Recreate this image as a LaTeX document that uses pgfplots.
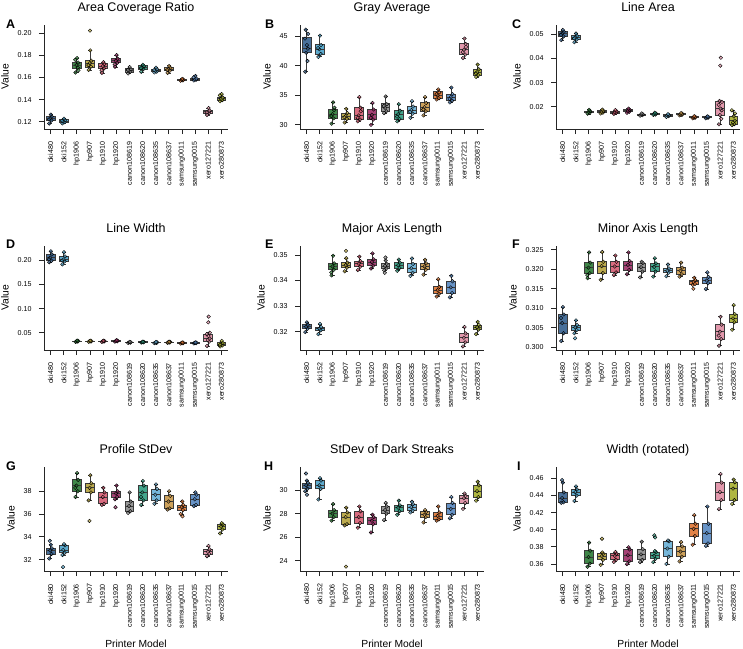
\documentclass[border=0pt]{standalone}
\usepackage{pgfplots}
\pgfplotsset{compat=1.18}
\usepackage{fontspec}
\setmainfont{Liberation Sans}

% one colour per printer model
\definecolor{c0}{HTML}{35618F}
\definecolor{c1}{HTML}{4BA1C8}
\definecolor{c2}{HTML}{2B7A35}
\definecolor{c3}{HTML}{B5A23C}
\definecolor{c4}{HTML}{D55C72}
\definecolor{c5}{HTML}{9B2D66}
\definecolor{c6}{HTML}{8C8C8C}
\definecolor{c7}{HTML}{2F9B80}
\definecolor{c8}{HTML}{67AFD6}
\definecolor{c9}{HTML}{C9984A}
\definecolor{c10}{HTML}{DE7432}
\definecolor{c11}{HTML}{5687C0}
\definecolor{c12}{HTML}{DF8DA3}
\definecolor{c13}{HTML}{A6AE2C}
\definecolor{axc}{HTML}{262626}
\definecolor{boxc}{HTML}{3A3A3A}

\pgfplotsset{boxline/.style={draw=boxc, line width=0.85pt, line join=miter}}

% box: position/colour index, lower whisker, Q1, median, Q3, upper whisker
\newcommand{\bxp}[6]{%
  \pgfmathsetmacro\bxL{#1-0.34}\pgfmathsetmacro\bxR{#1+0.34}%
  \pgfmathsetmacro\cpL{#1-0.14}\pgfmathsetmacro\cpR{#1+0.14}%
  \edef\doplot{%
    \noexpand\addplot[boxline, unbounded coords=jump] coordinates
      {(\cpL,#2)(\cpR,#2)(#1,nan)(#1,#2)(#1,#3)(#1,nan)(#1,#5)(#1,#6)(#1,nan)(\cpL,#6)(\cpR,#6)};
    \noexpand\addplot[boxline, fill=c#1, fill opacity=0.9] coordinates
      {(\bxL,#3)(\bxR,#3)(\bxR,#5)(\bxL,#5)} -- cycle;
    \noexpand\addplot[boxline] coordinates {(\bxL,#4)(\bxR,#4)};
  }\doplot}
% individual samples of one printer model
\newcommand{\pts}[2]{\addplot[only marks, mark=*, mark size=1.8pt,
  mark options={draw=none, fill=c#1, fill opacity=0.7}] coordinates {#2};}

\pgfplotsset{
  panel/.style={
    scale only axis, width=184pt, height=104pt,
    xmin=-0.5, xmax=13.5, xtick={0,...,13},
    xticklabels={oki480,oki152,hp1906,hp907,hp1910,hp1920,canon108619,canon108620,
      canon108635,canon108637,samsung0011,samsung0015,xero127221,xero280873},
    axis x line*=bottom, axis y line*=left,
    axis line style={line width=0.8pt, color=axc},
    tick style={line width=0.8pt, color=axc},
    major tick length=5pt, tick align=outside,
    xticklabel shift=4.5pt, yticklabel shift=4pt,
    x tick label style={rotate=90, anchor=east, font=\fontsize{7.1}{8}\selectfont},
    y tick label style={font=\fontsize{7.1}{8}\selectfont},
    ylabel={Value}, ylabel style={font=\fontsize{10.3}{12}\selectfont}, ylabel shift=2pt,
    xlabel style={font=\fontsize{10.3}{12}\selectfont}, xlabel shift=5pt,
    title style={at={(0.5,1)}, anchor=base, yshift=7.5pt, font=\fontsize{12.5}{14}\selectfont},
    scaled y ticks=false,
    /pgf/number format/assume math mode=true,
  },
}

\begin{document}
\begin{tikzpicture}
\path[use as bounding box] (0pt,0pt) rectangle (743pt,-648pt);

% ---------- A ----------
\begin{axis}[panel, at={(44pt,-129pt)}, anchor=south west, title={Area Coverage Ratio},
  ymin=0.1135, ymax=0.2074, ytick={0.12,0.14,0.16,0.18,0.20},
  yticklabels={0.12,0.14,0.16,0.18,0.20}]
\bxp{0}{.1185}{.1210}{.1230}{.1250}{.1265}
\bxp{1}{.1185}{.1195}{.1205}{.1218}{.1228}
\bxp{2}{.1645}{.1685}{.1712}{.1738}{.1775}
\bxp{3}{.1665}{.1695}{.1730}{.1755}{.1845}
\bxp{4}{.1640}{.1680}{.1703}{.1725}{.1740}
\bxp{5}{.1695}{.1732}{.1752}{.1772}{.1800}
\bxp{6}{.1635}{.1650}{.1662}{.1678}{.1695}
\bxp{7}{.1650}{.1675}{.1690}{.1705}{.1715}
\bxp{8}{.1645}{.1652}{.1662}{.1675}{.1690}
\bxp{9}{.1640}{.1660}{.1675}{.1690}{.1705}
\bxp{10}{.1570}{.1573}{.1578}{.1583}{.1588}
\bxp{11}{.1572}{.1578}{.1583}{.1590}{.1615}
\bxp{12}{.1260}{.1278}{.1290}{.1302}{.1325}
\bxp{13}{.1385}{.1395}{.1408}{.1420}{.1450}
\pts{0}{(-0.1,.1185)(0.07,.1212)(-0.03,.1230)(0.1,.1248)(0.02,.1265)(-0.12,.1222)}
\pts{1}{(0.9,.1186)(1.07,.1196)(0.97,.1205)(1.1,.1216)(1.02,.1228)(0.88,.1210)}
\pts{2}{(1.9,.1645)(2.07,.1688)(1.97,.1712)(2.1,.1735)(2.02,.1775)(1.88,.1760)(2.12,.1665)}
\pts{3}{(2.9,.1668)(3.07,.1698)(2.97,.1728)(3.1,.1752)(3.02,.1845)(2.88,.1712)(3.0,.2023)}
\pts{4}{(3.9,.1641)(4.07,.1682)(3.97,.1703)(4.1,.1722)(4.02,.1738)(3.88,.1665)}
\pts{5}{(4.9,.1697)(5.07,.1733)(4.97,.1752)(5.1,.1770)(5.02,.1802)(4.88,.1718)}
\pts{6}{(5.9,.1636)(6.07,.1652)(5.97,.1662)(6.1,.1676)(6.02,.1694)(5.88,.1668)}
\pts{7}{(6.9,.1652)(7.07,.1676)(6.97,.1690)(7.1,.1703)(7.02,.1715)(6.88,.1684)}
\pts{8}{(7.9,.1646)(8.07,.1653)(7.97,.1662)(8.1,.1674)(8.02,.1689)(7.88,.1668)}
\pts{9}{(8.9,.1641)(9.07,.1661)(8.97,.1675)(9.1,.1689)(9.02,.1704)(8.88,.1668)}
\pts{10}{(9.9,.1571)(10.07,.1574)(9.97,.1578)(10.1,.1582)(10.02,.1587)}
\pts{11}{(10.9,.1573)(11.07,.1579)(10.97,.1583)(11.1,.1589)(11.02,.1614)(10.88,.1600)}
\pts{12}{(11.9,.1261)(12.07,.1279)(11.97,.1290)(12.1,.1301)(12.02,.1324)(11.88,.1285)}
\pts{13}{(12.9,.1386)(13.07,.1396)(12.97,.1408)(13.1,.1419)(13.02,.1450)(12.88,.1438)}
\end{axis}

% ---------- B ----------
\begin{axis}[panel, at={(300pt,-129pt)}, anchor=south west, title={Gray Average},
  ymin=29.3, ymax=46.9, ytick={30,35,40,45}, yticklabels={30,35,40,45}]
\bxp{0}{39.0}{42.2}{42.9}{44.8}{46.1}
\bxp{1}{41.5}{42.0}{42.8}{43.6}{45.2}
\bxp{2}{30.2}{31.1}{31.8}{32.6}{33.8}
\bxp{3}{30.4}{31.0}{31.5}{32.0}{32.7}
\bxp{4}{30.6}{30.9}{31.6}{33.0}{34.7}
\bxp{5}{30.0}{30.9}{31.7}{32.6}{33.7}
\bxp{6}{32.0}{32.3}{32.9}{33.6}{34.8}
\bxp{7}{30.6}{31.0}{31.8}{32.5}{33.5}
\bxp{8}{31.2}{31.9}{32.5}{33.1}{34.0}
\bxp{9}{31.6}{32.3}{33.0}{33.8}{34.7}
\bxp{10}{34.3}{34.5}{35.0}{35.6}{36.0}
\bxp{11}{33.8}{34.1}{34.7}{35.2}{36.3}
\bxp{12}{41.3}{41.9}{42.7}{43.8}{44.6}
\bxp{13}{38.1}{38.4}{38.9}{39.4}{40.2}
\pts{0}{(-0.1,39.0)(0.07,40.8)(-0.03,42.2)(0.1,42.9)(0.02,43.5)(-0.12,44.6)(0.12,45.4)(-0.06,46.1)}
\pts{1}{(0.9,41.5)(1.07,42.0)(0.97,42.8)(1.1,43.5)(1.02,45.1)(0.88,43.0)}
\pts{2}{(1.9,30.2)(2.07,31.1)(1.97,31.8)(2.1,32.5)(2.02,33.8)(1.88,31.5)(2.12,32.9)}
\pts{3}{(2.9,30.4)(3.07,31.0)(2.97,31.5)(3.1,32.0)(3.02,32.7)(2.88,31.3)}
\pts{4}{(3.9,30.6)(4.07,30.9)(3.97,31.6)(4.1,32.9)(4.02,34.7)(3.88,31.2)(4.12,32.3)}
\pts{5}{(4.9,30.0)(5.07,30.9)(4.97,31.7)(5.1,32.6)(5.02,33.7)(4.88,31.2)}
\pts{6}{(5.9,32.0)(6.07,32.3)(5.97,32.9)(6.1,33.5)(6.02,34.8)(5.88,33.2)}
\pts{7}{(6.9,30.6)(7.07,31.0)(6.97,31.8)(7.1,32.4)(7.02,33.5)(6.88,31.4)}
\pts{8}{(7.9,31.2)(8.07,31.9)(7.97,32.5)(8.1,33.1)(8.02,34.0)(7.88,32.2)}
\pts{9}{(8.9,31.6)(9.07,32.3)(8.97,33.0)(9.1,33.7)(9.02,34.7)(8.88,32.6)}
\pts{10}{(9.9,34.3)(10.07,34.5)(9.97,35.0)(10.1,35.5)(10.02,36.0)(9.88,35.2)}
\pts{11}{(10.9,33.8)(11.07,34.1)(10.97,34.7)(11.1,35.2)(11.02,36.3)(10.88,34.4)}
\pts{12}{(11.9,41.3)(12.07,41.9)(11.97,42.7)(12.1,43.7)(12.02,44.6)(11.88,42.3)(12.12,43.2)}
\pts{13}{(12.9,38.1)(13.07,38.4)(12.97,38.9)(13.1,39.4)(13.02,40.2)(12.88,38.7)}
\end{axis}

% ---------- C ----------
\begin{axis}[panel, at={(556pt,-129pt)}, anchor=south west, title={Line Area},
  ymin=0.01076, ymax=0.05385, ytick={0.02,0.03,0.04,0.05}, yticklabels={0.02,0.03,0.04,0.05}]
\bxp{0}{.0476}{.0491}{.0503}{.0512}{.0518}
\bxp{1}{.0467}{.0478}{.0487}{.0495}{.0503}
\bxp{2}{.0170}{.0175}{.0178}{.0182}{.0187}
\bxp{3}{.0171}{.0175}{.0179}{.0183}{.0188}
\bxp{4}{.0170}{.0174}{.0177}{.0181}{.0186}
\bxp{5}{.0175}{.0179}{.0183}{.0187}{.0192}
\bxp{6}{.0163}{.0165}{.0167}{.0169}{.0172}
\bxp{7}{.0166}{.0168}{.0170}{.0172}{.0175}
\bxp{8}{.0158}{.0161}{.0164}{.0166}{.0169}
\bxp{9}{.0164}{.0166}{.0168}{.0171}{.0174}
\bxp{10}{.0152}{.0154}{.0156}{.0158}{.0161}
\bxp{11}{.0152}{.0154}{.0156}{.0158}{.0160}
\bxp{12}{.0127}{.0165}{.0192}{.0220}{.0224}
\bxp{13}{.0124}{.0128}{.0142}{.0160}{.0185}
\pts{0}{(-0.1,.0476)(0.07,.0491)(-0.03,.0503)(0.1,.0511)(0.02,.0518)(-0.12,.0498)}
\pts{1}{(0.9,.0467)(1.07,.0478)(0.97,.0487)(1.1,.0494)(1.02,.0503)(0.88,.0483)}
\pts{2}{(1.9,.0171)(2.07,.0175)(1.97,.0178)(2.1,.0182)(2.02,.0187)}
\pts{3}{(2.9,.0172)(3.07,.0175)(2.97,.0179)(3.1,.0183)(3.02,.0188)}
\pts{4}{(3.9,.0170)(4.07,.0174)(3.97,.0177)(4.1,.0181)(4.02,.0186)}
\pts{5}{(4.9,.0175)(5.07,.0179)(4.97,.0183)(5.1,.0187)(5.02,.0192)}
\pts{6}{(5.9,.0163)(6.07,.0165)(5.97,.0167)(6.1,.0169)(6.02,.0172)}
\pts{7}{(6.9,.0166)(7.07,.0168)(6.97,.0170)(7.1,.0172)(7.02,.0175)}
\pts{8}{(7.9,.0158)(8.07,.0161)(7.97,.0164)(8.1,.0166)(8.02,.0169)}
\pts{9}{(8.9,.0164)(9.07,.0166)(8.97,.0168)(9.1,.0171)(9.02,.0174)}
\pts{10}{(9.9,.0152)(10.07,.0154)(9.97,.0156)(10.1,.0158)(10.02,.0161)}
\pts{11}{(10.9,.0152)(11.07,.0154)(10.97,.0156)(11.1,.0158)(11.02,.0160)}
\pts{12}{(11.9,.0127)(12.07,.0150)(11.97,.0165)(12.1,.0185)(12.02,.0192)(11.88,.0208)(12.12,.0220)(11.94,.0224)(12.0,.0370)(12.04,.0403)}
\pts{13}{(12.9,.0124)(13.07,.0128)(12.97,.0135)(13.1,.0142)(13.02,.0160)(12.88,.0185)(13.12,.0172)}
\end{axis}

% ---------- D ----------
\begin{axis}[panel, at={(44pt,-350pt)}, anchor=south west, title={Line Width},
  ymin=0.0142, ymax=0.2295, ytick={0.05,0.10,0.15,0.20}, yticklabels={0.05,0.10,0.15,0.20}]
\bxp{0}{.1960}{.1990}{.2055}{.2120}{.2185}
\bxp{1}{.1915}{.1975}{.2015}{.2080}{.2165}
\bxp{2}{.0310}{.0318}{.0323}{.0330}{.0338}
\bxp{3}{.0312}{.0318}{.0324}{.0330}{.0336}
\bxp{4}{.0310}{.0317}{.0322}{.0328}{.0335}
\bxp{5}{.0315}{.0323}{.0330}{.0337}{.0345}
\bxp{6}{.0290}{.0295}{.0300}{.0305}{.0310}
\bxp{7}{.0295}{.0300}{.0305}{.0310}{.0315}
\bxp{8}{.0285}{.0291}{.0296}{.0302}{.0308}
\bxp{9}{.0292}{.0298}{.0303}{.0308}{.0314}
\bxp{10}{.0275}{.0282}{.0287}{.0293}{.0298}
\bxp{11}{.0278}{.0283}{.0288}{.0294}{.0299}
\bxp{12}{.0225}{.0315}{.0380}{.0470}{.0500}
\bxp{13}{.0215}{.0235}{.0260}{.0290}{.0330}
\pts{0}{(-0.1,.1960)(0.07,.1990)(-0.03,.2055)(0.1,.2120)(0.02,.2185)(-0.12,.2020)}
\pts{1}{(0.9,.1915)(1.07,.1975)(0.97,.2015)(1.1,.2080)(1.02,.2165)(0.88,.1995)}
\pts{2}{(1.9,.0310)(2.07,.0318)(1.97,.0323)(2.1,.0330)(2.02,.0338)}
\pts{3}{(2.9,.0312)(3.07,.0318)(2.97,.0324)(3.1,.0330)(3.02,.0336)}
\pts{4}{(3.9,.0310)(4.07,.0317)(3.97,.0322)(4.1,.0328)(4.02,.0335)}
\pts{5}{(4.9,.0315)(5.07,.0323)(4.97,.0330)(5.1,.0337)(5.02,.0345)}
\pts{6}{(5.9,.0290)(6.07,.0295)(5.97,.0300)(6.1,.0305)(6.02,.0310)}
\pts{7}{(6.9,.0295)(7.07,.0300)(6.97,.0305)(7.1,.0310)(7.02,.0315)}
\pts{8}{(7.9,.0285)(8.07,.0291)(7.97,.0296)(8.1,.0302)(8.02,.0308)}
\pts{9}{(8.9,.0292)(9.07,.0298)(8.97,.0303)(9.1,.0308)(9.02,.0314)}
\pts{10}{(9.9,.0275)(10.07,.0282)(9.97,.0287)(10.1,.0293)(10.02,.0298)}
\pts{11}{(10.9,.0278)(11.07,.0283)(10.97,.0288)(11.1,.0294)(11.02,.0299)}
\pts{12}{(11.9,.0225)(12.07,.0315)(11.97,.0350)(12.1,.0380)(12.02,.0430)(11.88,.0470)(12.12,.0500)(12.0,.0715)(12.03,.0833)}
\pts{13}{(12.9,.0215)(13.07,.0235)(12.97,.0260)(13.1,.0290)(13.02,.0330)(12.88,.0250)}
\end{axis}

% ---------- E ----------
\begin{axis}[panel, at={(300pt,-350pt)}, anchor=south west, title={Major Axis Length},
  ymin=0.3128, ymax=0.3535, ytick={0.32,0.33,0.34,0.35}, yticklabels={0.32,0.33,0.34,0.35}]
\bxp{0}{.3198}{.3211}{.3219}{.3227}{.3236}
\bxp{1}{.3190}{.3205}{.3212}{.3218}{.3230}
\bxp{2}{.3420}{.3442}{.3455}{.3467}{.3497}
\bxp{3}{.3436}{.3450}{.3460}{.3470}{.3487}
\bxp{4}{.3441}{.3454}{.3466}{.3476}{.3493}
\bxp{5}{.3447}{.3458}{.3472}{.3483}{.3506}
\bxp{6}{.3440}{.3447}{.3457}{.3465}{.3478}
\bxp{7}{.3438}{.3449}{.3460}{.3470}{.3482}
\bxp{8}{.3418}{.3430}{.3448}{.3465}{.3486}
\bxp{9}{.3423}{.3442}{.3455}{.3467}{.3481}
\bxp{10}{.3337}{.3348}{.3362}{.3375}{.3405}
\bxp{11}{.3334}{.3351}{.3373}{.3397}{.3418}
\bxp{12}{.3142}{.3158}{.3176}{.3193}{.3218}
\bxp{13}{.3190}{.3208}{.3217}{.3226}{.3238}
\pts{0}{(-0.1,.3198)(0.07,.3211)(-0.03,.3219)(0.1,.3227)(0.02,.3236)}
\pts{1}{(0.9,.3190)(1.07,.3205)(0.97,.3212)(1.1,.3218)(1.02,.3230)}
\pts{2}{(1.9,.3420)(2.07,.3442)(1.97,.3455)(2.1,.3467)(2.02,.3497)(1.88,.3432)}
\pts{3}{(2.9,.3436)(3.07,.3450)(2.97,.3460)(3.1,.3470)(3.02,.3487)(3.0,.3516)}
\pts{4}{(3.9,.3441)(4.07,.3454)(3.97,.3466)(4.1,.3476)(4.02,.3493)}
\pts{5}{(4.9,.3447)(5.07,.3458)(4.97,.3472)(5.1,.3483)(5.02,.3506)}
\pts{6}{(5.9,.3440)(6.07,.3447)(5.97,.3457)(6.1,.3465)(6.02,.3478)(6.0,.3490)(5.95,.3430)}
\pts{7}{(6.9,.3438)(7.07,.3449)(6.97,.3460)(7.1,.3470)(7.02,.3482)}
\pts{8}{(7.9,.3418)(8.07,.3430)(7.97,.3448)(8.1,.3465)(8.02,.3486)}
\pts{9}{(8.9,.3423)(9.07,.3442)(8.97,.3455)(9.1,.3467)(9.02,.3481)}
\pts{10}{(9.9,.3337)(10.07,.3348)(9.97,.3362)(10.1,.3375)(10.02,.3405)}
\pts{11}{(10.9,.3334)(11.07,.3351)(10.97,.3373)(11.1,.3397)(11.02,.3418)}
\pts{12}{(11.9,.3142)(12.07,.3158)(11.97,.3176)(12.1,.3193)(12.02,.3218)}
\pts{13}{(12.9,.3190)(13.07,.3208)(12.97,.3217)(13.1,.3226)(13.02,.3238)}
\end{axis}

% ---------- F ----------
\begin{axis}[panel, at={(556pt,-350pt)}, anchor=south west, title={Minor Axis Length},
  ymin=0.2993, ymax=0.32595, ytick={0.300,0.305,0.310,0.315,0.320,0.325},
  yticklabels={0.300,0.305,0.310,0.315,0.320,0.325}]
\bxp{0}{.3016}{.3036}{.3062}{.3084}{.3103}
\bxp{1}{.3036}{.3044}{.3051}{.3057}{.3069}
\bxp{2}{.3177}{.3190}{.3204}{.3217}{.3243}
\bxp{3}{.3173}{.3190}{.3208}{.3219}{.3244}
\bxp{4}{.3185}{.3192}{.3207}{.3219}{.3235}
\bxp{5}{.3187}{.3198}{.3211}{.3221}{.3243}
\bxp{6}{.3179}{.3194}{.3205}{.3216}{.3219}
\bxp{7}{.3181}{.3194}{.3206}{.3215}{.3228}
\bxp{8}{.3182}{.3191}{.3196}{.3202}{.3212}
\bxp{9}{.3181}{.3187}{.3196}{.3204}{.3217}
\bxp{10}{.3160}{.3162}{.3168}{.3172}{.3178}
\bxp{11}{.3149}{.3164}{.3171}{.3180}{.3192}
\bxp{12}{.3004}{.3021}{.3040}{.3058}{.3078}
\bxp{13}{.3045}{.3064}{.3074}{.3085}{.3108}
\pts{0}{(-0.1,.3016)(0.07,.3036)(-0.03,.3062)(0.1,.3084)(0.02,.3103)(-0.12,.3075)}
\pts{1}{(0.9,.3036)(1.07,.3044)(0.97,.3051)(1.1,.3057)(1.02,.3069)(0.95,.3023)}
\pts{2}{(1.9,.3177)(2.07,.3190)(1.97,.3204)(2.1,.3217)(2.02,.3243)(1.88,.3185)}
\pts{3}{(2.9,.3173)(3.07,.3190)(2.97,.3208)(3.1,.3219)(3.02,.3244)}
\pts{4}{(3.9,.3185)(4.07,.3192)(3.97,.3207)(4.1,.3219)(4.02,.3235)}
\pts{5}{(4.9,.3187)(5.07,.3198)(4.97,.3211)(5.1,.3221)(5.02,.3243)}
\pts{6}{(5.9,.3179)(6.07,.3194)(5.97,.3205)(6.1,.3216)(6.02,.3219)}
\pts{7}{(6.9,.3181)(7.07,.3194)(6.97,.3206)(7.1,.3215)(7.02,.3228)}
\pts{8}{(7.9,.3182)(8.07,.3191)(7.97,.3196)(8.1,.3202)(8.02,.3212)}
\pts{9}{(8.9,.3181)(9.07,.3187)(8.97,.3196)(9.1,.3204)(9.02,.3217)}
\pts{10}{(9.9,.3160)(10.07,.3162)(9.97,.3168)(10.1,.3172)(10.02,.3178)(9.95,.3150)}
\pts{11}{(10.9,.3149)(11.07,.3164)(10.97,.3171)(11.1,.3180)(11.02,.3192)}
\pts{12}{(11.9,.3004)(12.07,.3021)(11.97,.3040)(12.1,.3058)(12.02,.3078)(11.88,.3030)}
\pts{13}{(12.9,.3045)(13.07,.3064)(12.97,.3074)(13.1,.3085)(13.02,.3108)}
\end{axis}

% ---------- G ----------
\begin{axis}[panel, at={(44pt,-571pt)}, anchor=south west, title={Profile StDev},
  xlabel={Printer Model},
  ymin=31.0, ymax=40.13, ytick={32,34,36,38}, yticklabels={32,34,36,38}]
\bxp{0}{32.1}{32.5}{32.8}{33.0}{33.3}
\bxp{1}{32.4}{32.6}{32.85}{33.25}{33.35}
\bxp{2}{37.5}{38.0}{38.5}{39.0}{39.6}
\bxp{3}{37.2}{37.9}{38.3}{38.7}{39.4}
\bxp{4}{36.8}{36.9}{37.5}{37.9}{38.3}
\bxp{5}{37.3}{37.5}{37.8}{38.0}{38.5}
\bxp{6}{36.1}{36.25}{36.7}{37.1}{37.9}
\bxp{7}{36.8}{37.2}{37.9}{38.5}{38.9}
\bxp{8}{36.9}{37.2}{37.7}{38.2}{38.6}
\bxp{9}{36.4}{36.5}{37.1}{37.6}{38.0}
\bxp{10}{36.0}{36.35}{36.6}{36.8}{37.1}
\bxp{11}{36.7}{36.8}{37.3}{37.7}{37.9}
\bxp{12}{32.3}{32.5}{32.7}{32.9}{33.2}
\bxp{13}{34.3}{34.65}{34.9}{35.1}{35.2}
\pts{0}{(-0.1,32.1)(0.07,32.5)(-0.03,32.8)(0.1,33.0)(0.02,33.3)(-0.06,33.65)}
\pts{1}{(0.9,32.4)(1.07,32.6)(0.97,32.85)(1.1,33.25)(1.02,33.35)(0.95,31.35)}
\pts{2}{(1.9,37.5)(2.07,38.0)(1.97,38.5)(2.1,39.0)(2.02,39.6)(1.88,38.3)}
\pts{3}{(2.9,37.2)(3.07,37.9)(2.97,38.3)(3.1,38.7)(3.02,39.4)(2.96,35.4)}
\pts{4}{(3.9,36.8)(4.07,36.9)(3.97,37.5)(4.1,37.9)(4.02,38.3)}
\pts{5}{(4.9,37.3)(5.07,37.5)(4.97,37.8)(5.1,38.0)(5.02,38.5)(4.94,36.6)}
\pts{6}{(5.9,36.1)(6.07,36.25)(5.97,36.7)(6.1,37.1)(6.02,37.9)}
\pts{7}{(6.9,36.8)(7.07,37.2)(6.97,37.9)(7.1,38.5)(7.02,38.9)(6.88,37.5)}
\pts{8}{(7.9,36.9)(8.07,37.2)(7.97,37.7)(8.1,38.2)(8.02,38.6)}
\pts{9}{(8.9,36.4)(9.07,36.5)(8.97,37.1)(9.1,37.6)(9.02,38.0)}
\pts{10}{(9.9,36.0)(10.07,36.35)(9.97,36.6)(10.1,36.8)(10.02,37.1)(10.04,35.8)}
\pts{11}{(10.9,36.7)(11.07,36.8)(10.97,37.3)(11.1,37.7)(11.02,37.9)}
\pts{12}{(11.9,32.3)(12.07,32.5)(11.97,32.7)(12.1,32.9)(12.02,33.2)}
\pts{13}{(12.9,34.3)(13.07,34.65)(12.97,34.9)(13.1,35.1)(13.02,35.2)}
\end{axis}

% ---------- H ----------
\begin{axis}[panel, at={(300pt,-571pt)}, anchor=south west, title={StDev of Dark Streaks},
  xlabel={Printer Model},
  ymin=23.13, ymax=31.95, ytick={24,26,28,30}, yticklabels={24,26,28,30}]
\bxp{0}{29.9}{30.1}{30.4}{30.6}{30.8}
\bxp{1}{29.2}{30.1}{30.4}{30.8}{31.0}
\bxp{2}{27.4}{27.7}{28.0}{28.3}{28.8}
\bxp{3}{27.0}{27.1}{27.7}{28.1}{28.5}
\bxp{4}{26.8}{27.2}{27.7}{28.2}{28.6}
\bxp{5}{26.4}{27.1}{27.4}{27.7}{27.9}
\bxp{6}{27.45}{28.0}{28.3}{28.6}{28.9}
\bxp{7}{27.9}{28.2}{28.5}{28.7}{29.1}
\bxp{8}{28.1}{28.25}{28.55}{28.8}{29.0}
\bxp{9}{27.25}{27.7}{27.9}{28.15}{28.3}
\bxp{10}{27.4}{27.5}{27.8}{28.1}{28.6}
\bxp{11}{27.6}{27.9}{28.4}{28.9}{29.4}
\bxp{12}{28.4}{28.9}{29.3}{29.5}{29.7}
\bxp{13}{29.1}{29.4}{29.9}{30.4}{30.7}
\pts{0}{(-0.1,29.9)(0.07,30.1)(-0.03,30.4)(0.1,30.6)(0.02,30.8)(-0.04,31.4)(0.03,29.6)}
\pts{1}{(0.9,29.2)(1.07,30.1)(0.97,30.4)(1.1,30.8)(1.02,31.0)}
\pts{2}{(1.9,27.4)(2.07,27.7)(1.97,28.0)(2.1,28.3)(2.02,28.8)}
\pts{3}{(2.9,27.0)(3.07,27.1)(2.97,27.7)(3.1,28.1)(3.02,28.5)(3.0,23.5)}
\pts{4}{(3.9,26.8)(4.07,27.2)(3.97,27.7)(4.1,28.2)(4.02,28.6)}
\pts{5}{(4.9,26.4)(5.07,27.1)(4.97,27.4)(5.1,27.7)(5.02,27.9)}
\pts{6}{(5.9,27.45)(6.07,28.0)(5.97,28.3)(6.1,28.6)(6.02,28.9)}
\pts{7}{(6.9,27.9)(7.07,28.2)(6.97,28.5)(7.1,28.7)(7.02,29.1)}
\pts{8}{(7.9,28.1)(8.07,28.25)(7.97,28.55)(8.1,28.8)(8.02,29.0)}
\pts{9}{(8.9,27.25)(9.07,27.7)(8.97,27.9)(9.1,28.15)(9.02,28.3)}
\pts{10}{(9.9,27.4)(10.07,27.5)(9.97,27.8)(10.1,28.1)(10.02,28.6)}
\pts{11}{(10.9,27.6)(11.07,27.9)(10.97,28.4)(11.1,28.9)(11.02,29.4)}
\pts{12}{(11.9,28.4)(12.07,28.9)(11.97,29.3)(12.1,29.5)(12.02,29.7)}
\pts{13}{(12.9,29.1)(13.07,29.4)(12.97,29.9)(13.1,30.4)(13.02,30.7)}
\end{axis}

% ---------- I ----------
\begin{axis}[panel, at={(556pt,-571pt)}, anchor=south west, title={Width (rotated)},
  xlabel={Printer Model},
  ymin=0.3518, ymax=0.4732, ytick={0.36,0.38,0.40,0.42,0.44,0.46},
  yticklabels={0.36,0.38,0.40,0.42,0.44,0.46}]
\bxp{0}{.4315}{.4320}{.4370}{.4435}{.4550}
\bxp{1}{.4335}{.4398}{.4440}{.4470}{.4505}
\bxp{2}{.3568}{.3605}{.3680}{.3755}{.3850}
\bxp{3}{.3590}{.3648}{.3690}{.3720}{.3735}
\bxp{4}{.3625}{.3650}{.3695}{.3720}{.3740}
\bxp{5}{.3598}{.3630}{.3702}{.3770}{.3795}
\bxp{6}{.3622}{.3648}{.3712}{.3772}{.3860}
\bxp{7}{.3622}{.3660}{.3695}{.3738}{.3750}
\bxp{8}{.3600}{.3685}{.3780}{.3865}{.3875}
\bxp{9}{.3630}{.3685}{.3745}{.3805}{.3855}
\bxp{10}{.3825}{.3925}{.4010}{.4070}{.4170}
\bxp{11}{.3810}{.3840}{.3960}{.4070}{.4270}
\bxp{12}{.4240}{.4345}{.4440}{.4550}{.4650}
\bxp{13}{.4300}{.4345}{.4480}{.4555}{.4585}
\pts{0}{(-0.1,.4315)(0.07,.4320)(-0.03,.4370)(0.1,.4435)(0.02,.4550)(-0.04,.4580)}
\pts{1}{(0.9,.4335)(1.07,.4398)(0.97,.4440)(1.1,.4470)(1.02,.4505)}
\pts{2}{(1.9,.3568)(2.07,.3605)(1.97,.3680)(2.1,.3755)(2.02,.3850)}
\pts{3}{(2.9,.3590)(3.07,.3648)(2.97,.3690)(3.1,.3720)(3.02,.3735)(3.0,.3895)}
\pts{4}{(3.9,.3625)(4.07,.3650)(3.97,.3695)(4.1,.3720)(4.02,.3740)}
\pts{5}{(4.9,.3598)(5.07,.3630)(4.97,.3702)(5.1,.3770)(5.02,.3795)}
\pts{6}{(5.9,.3622)(6.07,.3648)(5.97,.3712)(6.1,.3772)(6.02,.3860)}
\pts{7}{(6.9,.3622)(7.07,.3660)(6.97,.3695)(7.1,.3738)(7.02,.3750)(6.98,.3935)(7.04,.3910)}
\pts{8}{(7.9,.3600)(8.07,.3685)(7.97,.3780)(8.1,.3865)(8.02,.3875)}
\pts{9}{(8.9,.3630)(9.07,.3685)(8.97,.3745)(9.1,.3805)(9.02,.3855)}
\pts{10}{(9.9,.3825)(10.07,.3925)(9.97,.4010)(10.1,.4070)(10.02,.4170)}
\pts{11}{(10.9,.3810)(11.07,.3840)(10.97,.3960)(11.1,.4070)(11.02,.4270)}
\pts{12}{(11.9,.4240)(12.07,.4345)(11.97,.4440)(12.1,.4550)(12.02,.4650)}
\pts{13}{(12.9,.4300)(13.07,.4345)(12.97,.4480)(13.1,.4555)(13.02,.4585)}
\end{axis}

% panel letters
\begin{scope}[every node/.style={anchor=base west, font=\bfseries\fontsize{12.5}{14}\selectfont, inner sep=0pt}]
\node at (6pt,-28pt) {A};
\node at (265pt,-28pt) {B};
\node at (512pt,-28pt) {C};
\node at (6pt,-248pt) {D};
\node at (265pt,-248pt) {E};
\node at (512pt,-248pt) {F};
\node at (6pt,-470pt) {G};
\node at (264pt,-470pt) {H};
\node at (517pt,-470pt) {I};
\end{scope}
\end{tikzpicture}
\end{document}
